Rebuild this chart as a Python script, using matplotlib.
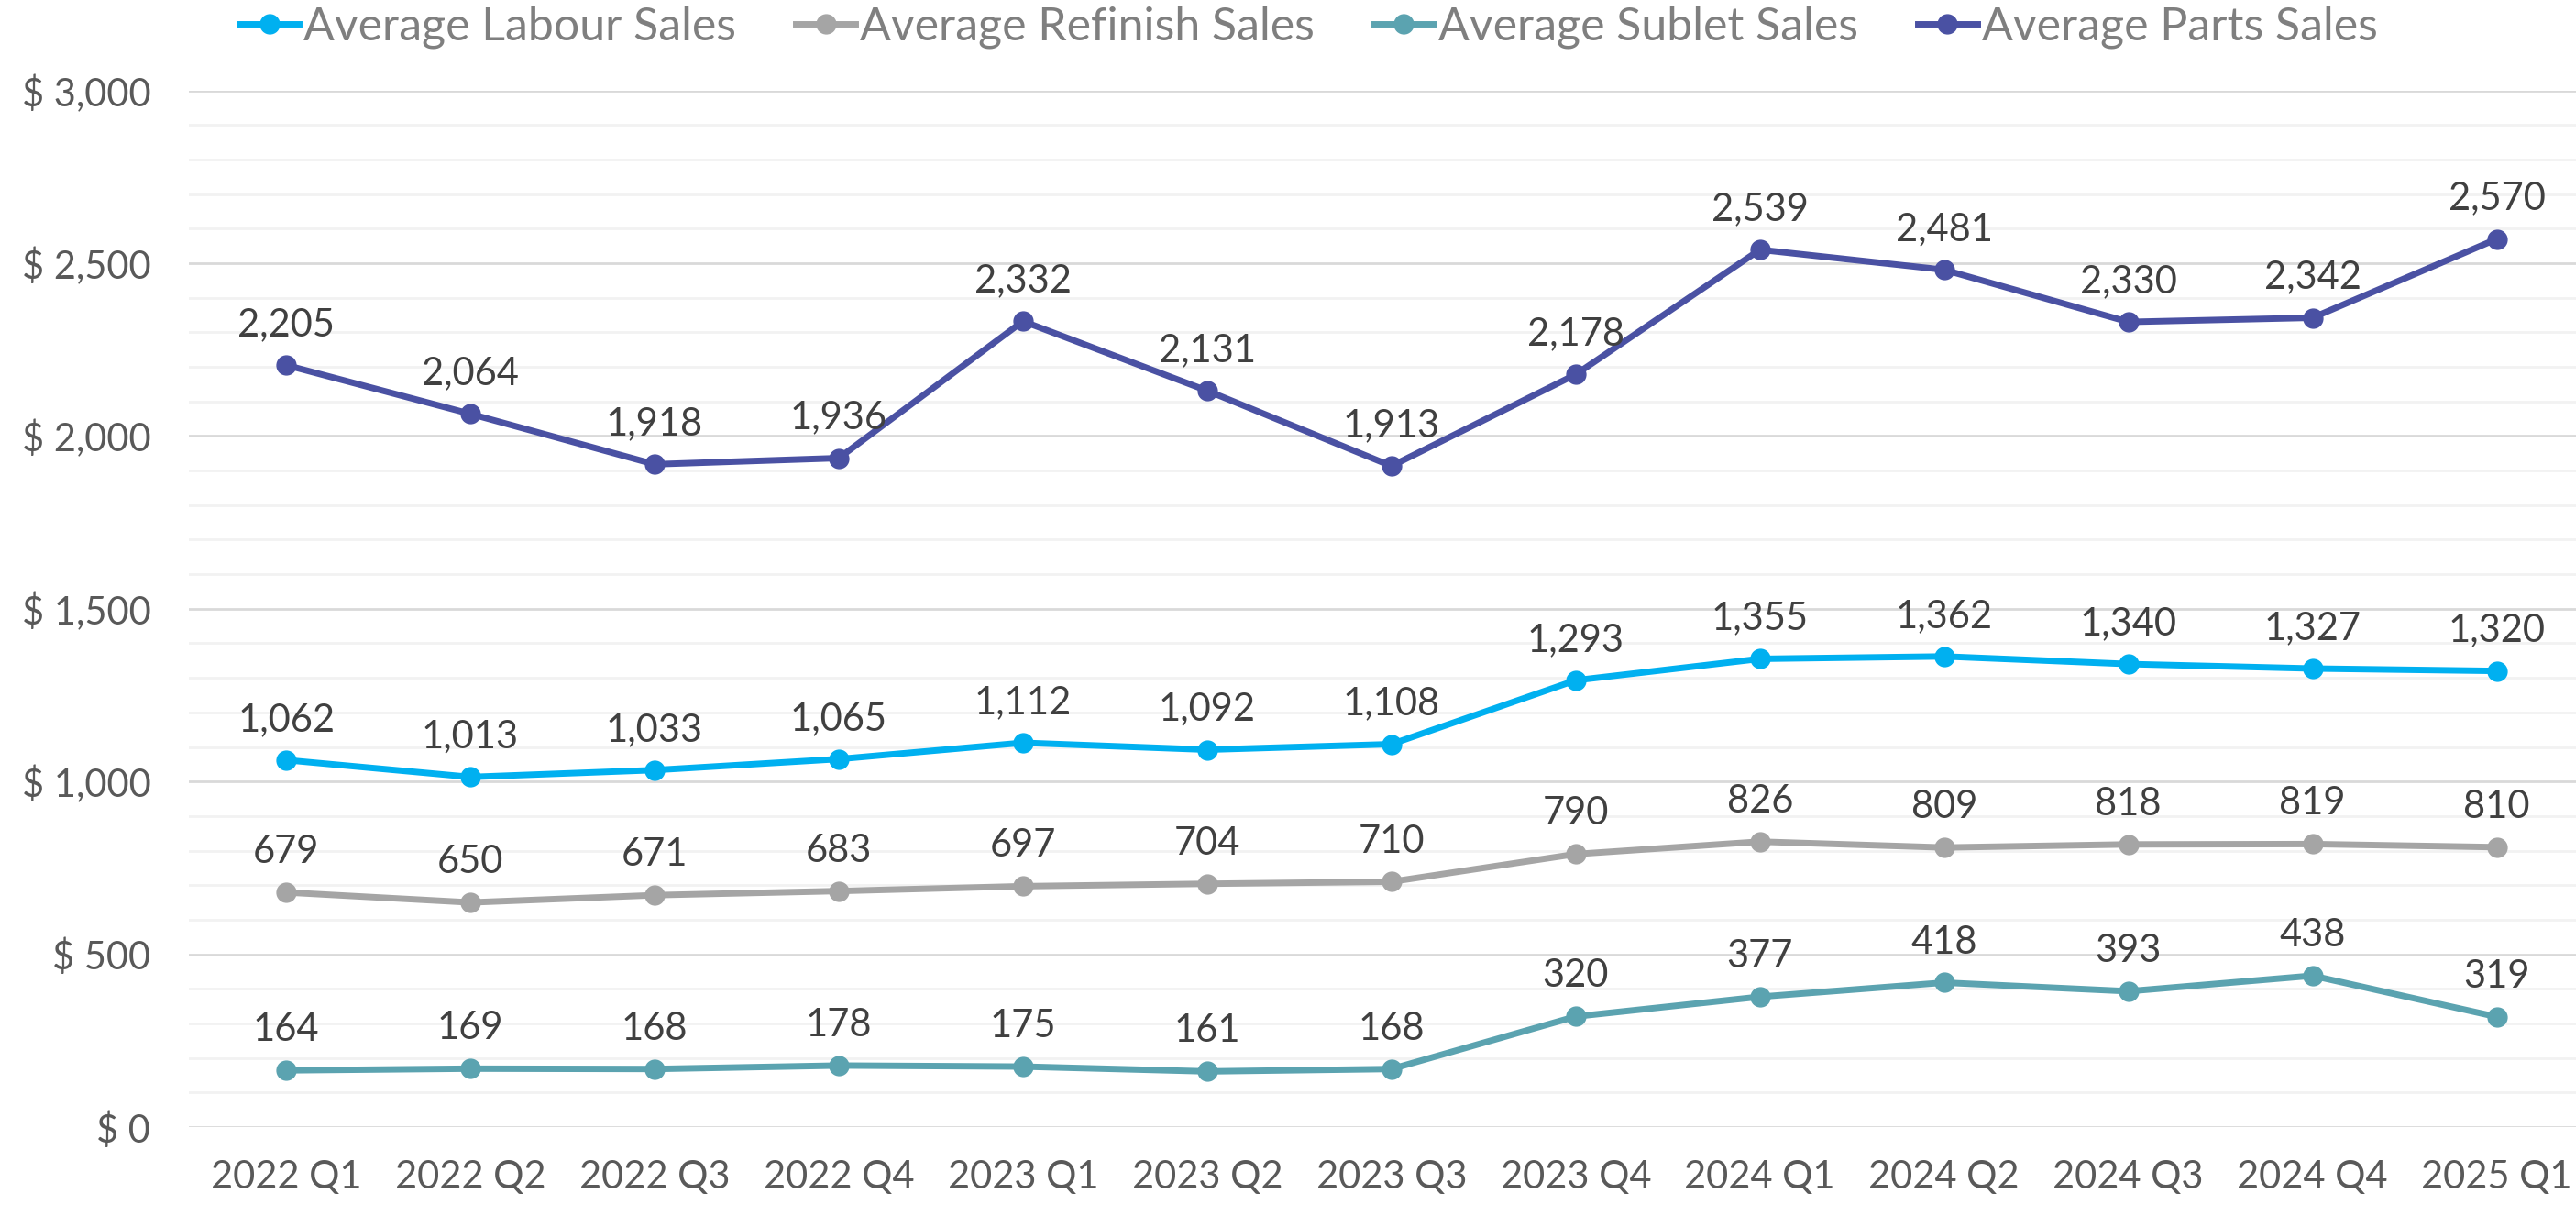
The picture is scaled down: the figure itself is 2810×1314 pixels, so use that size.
import numpy as np
import matplotlib
matplotlib.use('Agg')
import matplotlib.pyplot as plt
from matplotlib.ticker import MultipleLocator, FuncFormatter

plt.rcParams['font.family'] = ['Lato', 'DejaVu Sans']

quarters = ['2022 Q1', '2022 Q2', '2022 Q3', '2022 Q4', '2023 Q1', '2023 Q2', '2023 Q3',
            '2023 Q4', '2024 Q1', '2024 Q2', '2024 Q3', '2024 Q4', '2025 Q1']
labour = [1062, 1013, 1033, 1065, 1112, 1092, 1108, 1293, 1355, 1362, 1340, 1327, 1320]
refinish = [679, 650, 671, 683, 697, 704, 710, 790, 826, 809, 818, 819, 810]
sublet = [164, 169, 168, 178, 175, 161, 168, 320, 377, 418, 393, 438, 319]
parts = [2205, 2064, 1918, 1936, 2332, 2131, 1913, 2178, 2539, 2481, 2330, 2342, 2570]

series = [
    ('Average Labour Sales', labour, '#00b0f0'),
    ('Average Refinish Sales', refinish, '#a5a5a5'),
    ('Average Sublet Sales', sublet, '#5ba3b0'),
    ('Average Parts Sales', parts, '#4a51a3'),
]

W, H = 2810, 1314
fig = plt.figure(figsize=(W / 100, H / 100), dpi=100)
ax = fig.add_axes([206 / W, 1 - 1229 / H, (W - 206) / W, (1229 - 98.6) / H])

x = np.arange(len(quarters))
for name, vals, col in series:
    ax.plot(x, vals, '-o', color=col, lw=5, ms=15, label=name, clip_on=False, zorder=3)
    for xi, v in zip(x, vals):
        ax.annotate(f'{v:,}', (xi, v), xytext=(0, 23), textcoords='offset points',
                    ha='center', va='baseline', fontsize=30, color='#404040')

ax.set_xlim(-0.528, 12.43)
ax.set_ylim(0, 3000)
ax.yaxis.set_major_locator(MultipleLocator(500))
ax.yaxis.set_minor_locator(MultipleLocator(100))
ax.yaxis.set_major_formatter(FuncFormatter(lambda v, p: f'$ {int(v):,}'))
ax.grid(axis='y', which='major', color='#d9d9d9', lw=2, zorder=0)
ax.grid(axis='y', which='minor', color='#f2f2f2', lw=2, zorder=0)
ax.set_axisbelow(True)
for s in ax.spines.values():
    s.set_visible(False)
ax.tick_params(axis='both', which='both', length=0)
ax.tick_params(axis='y', pad=30, labelsize=30, labelcolor='#595959')
ax.tick_params(axis='x', pad=26, labelsize=30, labelcolor='#595959')
ax.set_xticks(x)
ax.set_xticklabels(quarters)

fig.legend(loc='center', bbox_to_anchor=(0.508, 1 - 30 / H), ncol=4, frameon=False,
           fontsize=36, labelcolor='#7f7f7f', handlelength=1.3, handletextpad=0.1,
           columnspacing=1.3, markerscale=1.0)

fig.savefig('out.png', dpi=100)
